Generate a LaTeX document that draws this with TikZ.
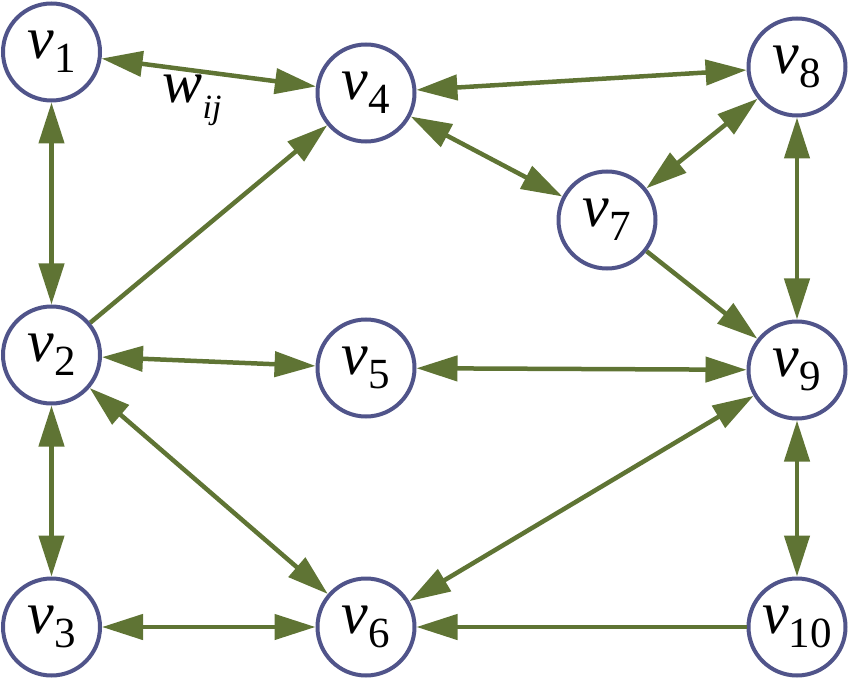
\documentclass[tikz,border=0pt]{standalone}
\usepackage{fontspec}
\setmainfont{LiberationSerif}[Extension=.ttf,UprightFont=*-Regular,ItalicFont=*-Italic,BoldFont=*-Bold,BoldItalicFont=*-BoldItalic]
\usetikzlibrary{arrows.meta}
\definecolor{edgegreen}{RGB}{95,116,52}
\definecolor{circblue}{RGB}{80,84,138}
\newcommand{\vlab}[1]{\fontsize{60}{60}\selectfont\textit{v}\raisebox{-14pt}{\fontsize{43}{43}\selectfont #1}}
\begin{document}
\begin{tikzpicture}[x=1pt,y=-1pt,
  vert/.style={circle,draw=circblue,line width=4pt,minimum size=97pt,inner sep=0pt,fill=white},
  link/.style={draw=edgegreen,line width=4.5pt},
  tip/.style={-{Triangle[length=41pt,width=25pt]}},
  both/.style={{Triangle[length=41pt,width=25pt]}-{Triangle[length=41pt,width=25pt]}}]
\useasboundingbox (0,0) rectangle (849,679);
\node[vert] (v1) at (51.5,52) {\vlab{1}};
\node[vert] (v4) at (366,93) {\vlab{4}};
\node[vert] (v8) at (797,67) {\vlab{8}};
\node[vert] (v7) at (607,220) {\vlab{7}};
\node[vert] (v2) at (51.5,355) {\vlab{2}};
\node[vert] (v5) at (366,368) {\vlab{5}};
\node[vert] (v9) at (797,370) {\vlab{9}};
\node[vert] (v3) at (51.5,627) {\vlab{3}};
\node[vert] (v6) at (366,627) {\vlab{6}};
\node[vert] (v10) at (797,627) {\vlab{10}};
\node (w) at (192,100) {\fontsize{60}{60}\selectfont\textit{w}\raisebox{-16pt}{\fontsize{34}{34}\selectfont\textit{ij}}};
\draw[link,both] (v1) -- (v4);
\draw[link,both] (v1) -- (v2);
\draw[link,tip] (v2) -- (v4);
\draw[link,both] (v4) -- (v8);
\draw[link,both] (v4) -- (v7);
\draw[link,both] (v8) -- (v7);
\draw[link,tip] (v7) -- (v9);
\draw[link,both] (v8) -- (v9);
\draw[link,both] (v2) -- (v5);
\draw[link,both] (v5) -- (v9);
\draw[link,both] (v2) -- (v3);
\draw[link,both] (v2) -- (v6);
\draw[link,both] (v9) -- (v6);
\draw[link,both] (v9) -- (v10);
\draw[link,both] (v3) -- (v6);
\draw[link,tip] (v10) -- (v6);
\end{tikzpicture}
\end{document}
